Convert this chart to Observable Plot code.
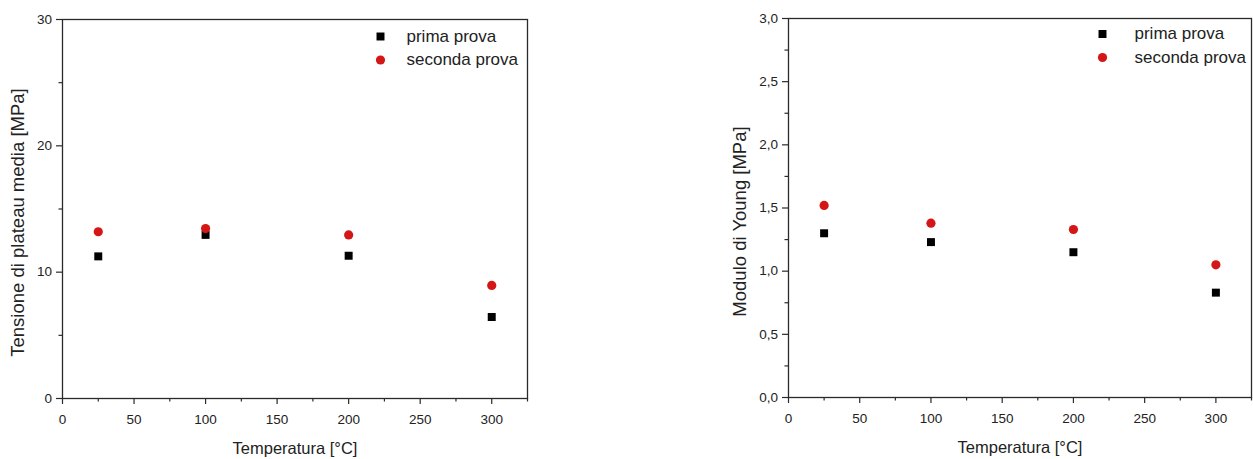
<!DOCTYPE html>
<html>
<head>
<meta charset="utf-8">
<script src="https://cdn.jsdelivr.net/npm/d3@7"></script>
<script src="https://cdn.jsdelivr.net/npm/@observablehq/plot@0.6"></script>
<style>
  html, body { margin: 0; padding: 0; background: #fff; }
  #wrap { position: relative; width: 1253px; height: 459px; overflow: hidden; }
  #left { position: absolute; left: 0; top: 0; }
  #right { position: absolute; left: 626px; top: 0; }
  svg { font-family: "Liberation Sans", Arial, sans-serif; }
</style>
</head>
<body>
<div id="wrap"><div id="left"></div><div id="right"></div></div>
<script>
// ---- data ----
const temperature = [25, 100, 200, 300];
const tensionePrima = [11.25, 12.95, 11.3, 6.45];
const tensioneSeconda = [13.2, 13.45, 12.95, 8.95];
const youngPrima = [1.30, 1.23, 1.15, 0.83];
const youngSeconda = [1.52, 1.38, 1.33, 1.05];
const seriesNames = ["prima prova", "seconda prova"];
const xMajor = [0, 50, 100, 150, 200, 250, 300];
const xMinor = [25, 75, 125, 175, 225, 275, 325];
const xTitle = "Temperatura [°C]";
const yTitleLeft = "Tensione di plateau media [MPa]";
const yTitleRight = "Modulo di Young [MPa]";
const yMajorLeft = [0, 10, 20, 30];
const yMinorLeft = [5, 15, 25];
const yMajorRight = [0, 0.5, 1, 1.5, 2, 2.5, 3];
const yMinorRight = [0.25, 0.75, 1.25, 1.75, 2.25, 2.75];

const BLACK = "#000";
const RED = "#d41616";
const AXIS = "#2a2a2a";
const TEXT = "#222";

function rows(ys) { return temperature.map((t, i) => ({t, v: ys[i]})); }

function panel(o) {
  return Plot.plot({
    width: o.width, height: o.height,
    marginLeft: o.margins[0], marginRight: o.margins[1], marginTop: o.margins[2], marginBottom: o.margins[3],
    style: {fontFamily: "'Liberation Sans', Arial, sans-serif", fontSize: "13.5px", color: TEXT, background: "#fff"},
    x: {domain: [0, 325]},
    y: {domain: o.yDomain},
    marks: [
      Plot.frame({stroke: AXIS, strokeWidth: 1.3}),
      Plot.axisX({ticks: xMajor, tickSize: 6, tickPadding: 10, stroke: AXIS, strokeWidth: 1.2,
        label: null, fontSize: 13.5, fill: TEXT}),
      Plot.axisX({ticks: xMinor, tickSize: 3.5, text: null, label: null, stroke: AXIS, strokeWidth: 1.2}),
      Plot.axisY({ticks: o.yMajor, tickSize: 6, tickPadding: 4.5, tickFormat: o.yFmt, stroke: AXIS, strokeWidth: 1.2,
        label: null, fontSize: 13.5, fill: TEXT}),
      Plot.axisY({ticks: o.yMinor, tickSize: 3.5, text: null, label: null, stroke: AXIS, strokeWidth: 1.2}),
      // axis titles
      Plot.text([xTitle], {text: d => d, frameAnchor: "bottom", dy: o.xTitleDy, textAnchor: "middle", lineAnchor: "middle", fontSize: 16.5, fill: TEXT}),
      Plot.text([o.yTitle], {text: d => d, frameAnchor: "left", dx: o.yTitleDx, dy: o.yTitleDy, rotate: -90, textAnchor: "middle", lineAnchor: "middle", fontSize: 18.5, fill: TEXT}),
      // data
      Plot.dot(rows(o.prima), {x: "t", y: "v", symbol: "square", r: 4.5, fill: BLACK, stroke: null}),
      Plot.dot(rows(o.seconda), {x: "t", y: "v", symbol: "circle", r: 4.6, fill: RED, stroke: null}),
      // legend
      Plot.dot([seriesNames[0]], {frameAnchor: "top-right", dx: o.legendDx, dy: o.legendDy, symbol: "square", r: 4.5, fill: BLACK, stroke: null}),
      Plot.dot([seriesNames[1]], {frameAnchor: "top-right", dx: o.legendDx, dy: o.legendDy + 23.5, symbol: "circle", r: 4.6, fill: RED, stroke: null}),
      Plot.text([seriesNames[0]], {text: d => d, frameAnchor: "top-right", dx: o.legendDx + o.legendGap, dy: o.legendDy, textAnchor: "start", lineAnchor: "middle", fontSize: 17, fill: TEXT}),
      Plot.text([seriesNames[1]], {text: d => d, frameAnchor: "top-right", dx: o.legendDx + o.legendGap, dy: o.legendDy + 23.5, textAnchor: "start", lineAnchor: "middle", fontSize: 17, fill: TEXT})
    ]
  });
}

const fmtInt = d3.format("d");
const fmtComma = d => d.toFixed(1).replace(".", ",");

document.getElementById("left").appendChild(panel({
  prima: tensionePrima, seconda: tensioneSeconda, yDomain: [0, 30], yMajor: yMajorLeft, yMinor: yMinorLeft,
  yFmt: fmtInt, yTitle: yTitleLeft, width: 626, height: 459, margins: [62, 99, 19, 61],
  legendDx: -147, legendDy: 17, legendGap: 26, xTitleDy: 50, yTitleDx: -44, yTitleDy: 13.5
}));
document.getElementById("right").appendChild(panel({
  prima: youngPrima, seconda: youngSeconda, yDomain: [0, 3], yMajor: yMajorRight, yMinor: yMinorRight,
  yFmt: fmtComma, yTitle: yTitleRight, width: 627, height: 459, margins: [162, 2, 18, 62],
  legendDx: -149, legendDy: 15.5, legendGap: 32, xTitleDy: 50, yTitleDx: -48, yTitleDy: 13.5
}));
</script>
</body>
</html>
